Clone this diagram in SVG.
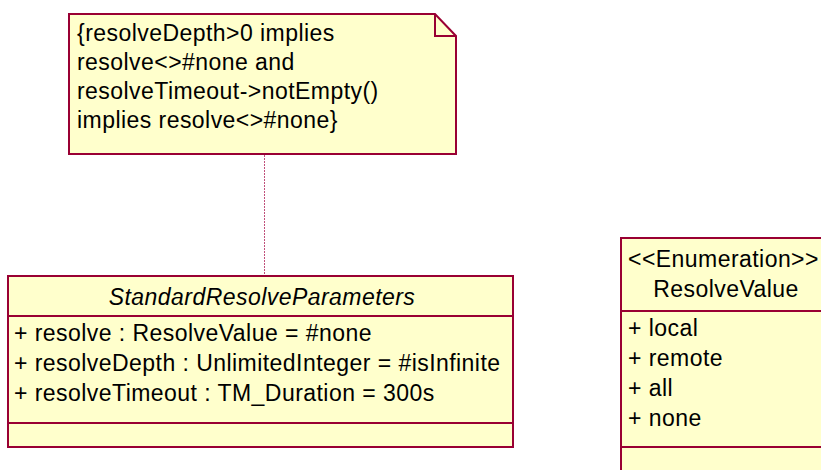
<svg xmlns="http://www.w3.org/2000/svg" width="821" height="470" viewBox="0 0 821 470">
<style>
.box{fill:#FFFFCC;stroke:#990033;stroke-width:2}
.sep{stroke:#990033;stroke-width:2;fill:none}
.t{font-family:"Liberation Sans",Arial,sans-serif;font-size:23px;letter-spacing:0.45px;fill:#000}
.it{font-style:italic}
.mid{text-anchor:middle}
.anchor{stroke:#C0507A;stroke-width:1;stroke-dasharray:2,1;fill:none}
</style>
<rect width="821" height="470" fill="#FFFFFF"/>
<g id="connectors">
<line class="anchor" x1="264.5" y1="155" x2="264.5" y2="276"/>
</g>
<g id="note">
<path class="box" d="M69,14 H435 L456,36 V154 H69 Z"/>
<path class="sep" d="M435,14 V36 H456"/>
<text class="t" x="77" y="41">{resolveDepth&gt;0 implies</text>
<text class="t" x="77" y="70">resolve&lt;&gt;#none and</text>
<text class="t" x="77" y="99">resolveTimeout-&gt;notEmpty()</text>
<text class="t" x="77" y="128">implies resolve&lt;&gt;#none}</text>
</g>
<g id="StandardResolveParameters">
<rect class="box" x="8" y="276" width="505" height="171"/>
<line class="sep" x1="8" y1="316" x2="513" y2="316"/>
<line class="sep" x1="8" y1="423" x2="513" y2="423"/>
<text class="t it mid" x="262" y="305">StandardResolveParameters</text>
<text class="t" x="14" y="341">+ resolve : ResolveValue = #none</text>
<text class="t" x="14" y="371">+ resolveDepth : UnlimitedInteger = #isInfinite</text>
<text class="t" x="14" y="401">+ resolveTimeout : TM_Duration = 300s</text>
</g>
<g id="ResolveValue">
<rect class="box" x="621" y="238" width="210" height="240"/>
<line class="sep" x1="621" y1="311" x2="831" y2="311"/>
<line class="sep" x1="621" y1="447" x2="831" y2="447"/>
<text class="t" x="628" y="267">&lt;&lt;Enumeration&gt;&gt;</text>
<text class="t mid" x="726" y="297">ResolveValue</text>
<text class="t" x="628" y="336">+ local</text>
<text class="t" x="628" y="366">+ remote</text>
<text class="t" x="628" y="396">+ all</text>
<text class="t" x="628" y="426">+ none</text>
</g>
</svg>
